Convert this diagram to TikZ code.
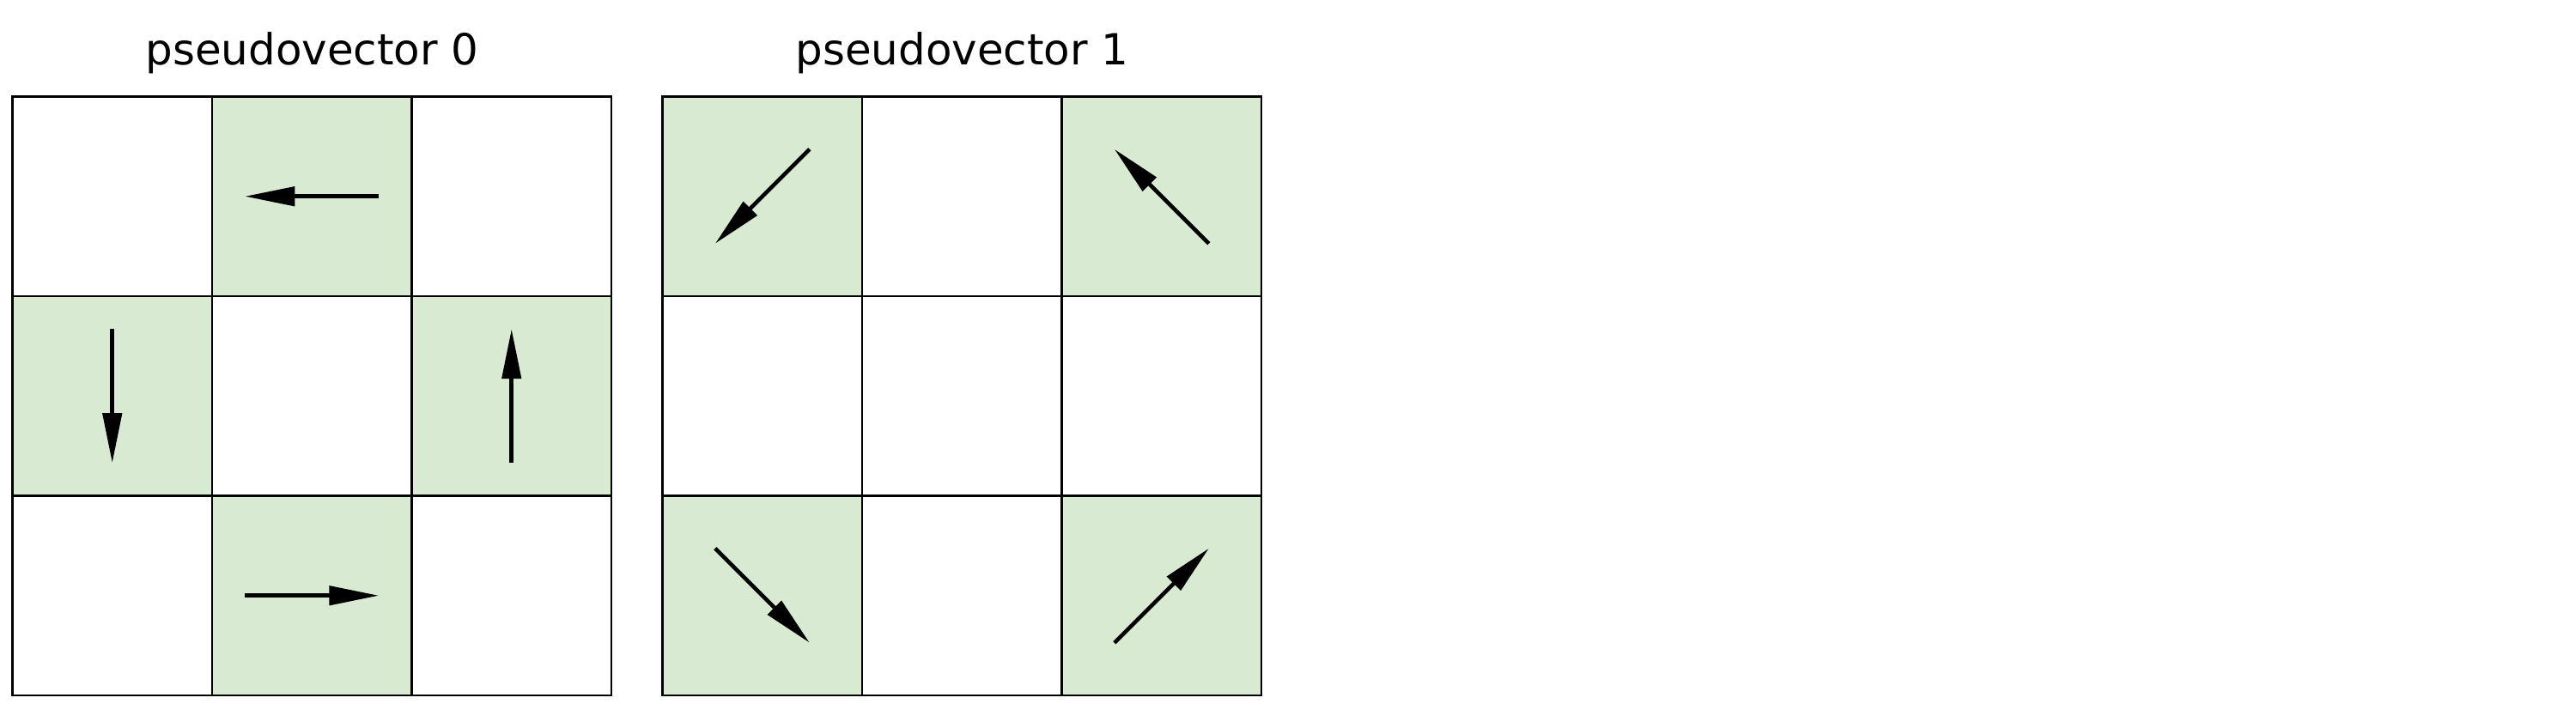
\documentclass[tikz,border=0pt]{standalone}
\usepackage{fontspec}
\setmainfont{DejaVu Sans}
\usetikzlibrary{arrows.meta,backgrounds}

\definecolor{cellgreen}{RGB}{217,234,211}

\begin{document}
\begin{tikzpicture}[
  font=\fontsize{14.2}{17}\selectfont,
  cell/.style={draw=black, line width=0.75pt, minimum size=2.325cm, inner sep=0pt},
  hot/.style={fill=cellgreen},
  vec/.style={-{Triangle[length=5.8mm, width=2.2mm]}, line width=1.3pt},
  heading/.style={anchor=base}
]
\useasboundingbox (0,0) rectangle (30,8.4);

% the two 3x3 grids
\foreach \g/\gx in {0/0.145, 1/7.716}{
  \foreach \r in {0,1,2}{
    \foreach \c in {0,1,2}{
      \node[cell] (g\g-\r\c) at (\gx+1.1625+\c*2.325, 7.275-1.1625-\r*2.325) {};
    }
  }
}

\node[heading] (t0) at (3.635,7.64) {pseudovector 0};
\node[heading] (t1) at (11.204,7.64) {pseudovector 1};

% shaded cells and their vectors
\begin{scope}[on background layer]
\foreach \g/\rc in {0/01, 0/10, 0/12, 0/21, 1/00, 1/02, 1/20, 1/22}{
  \fill[hot] (g\g-\rc.south west) rectangle (g\g-\rc.north east);
}
\end{scope}

\foreach \g/\rc/\dx/\dy in {
  0/01/-0.78/0,
  0/10/0/-0.78,
  0/12/0/0.78,
  0/21/0.78/0,
  1/00/-0.55/-0.55,
  1/02/-0.55/0.55,
  1/20/0.55/-0.55,
  1/22/0.55/0.55
}{
  \draw[vec] ([shift={(-\dx,-\dy)}]g\g-\rc.center) -- ([shift={(\dx,\dy)}]g\g-\rc.center);
}
\end{tikzpicture}
\end{document}
